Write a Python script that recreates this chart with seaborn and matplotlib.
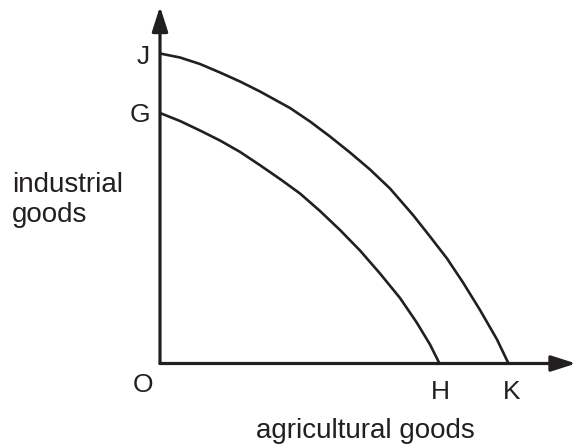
import matplotlib
matplotlib.use("Agg")
import matplotlib.pyplot as plt
from matplotlib.patches import FancyArrowPatch
import pandas as pd
import seaborn as sns

# Curves (x: agricultural goods, y: industrial goods)
outer_x = [0, 20, 40, 60, 80, 100, 130, 150, 170, 190, 210, 230, 253, 270, 287, 303, 320, 337, 348.5]
outer_y = [310, 306, 299.5, 291, 282, 272, 255.5, 242, 227, 211, 194, 175, 148.5, 127, 105, 81, 53.5, 24, 0]
inner_x = [0, 20, 40, 60, 80, 100, 120, 140, 160, 180, 200, 220, 240, 256.7, 270, 279.5]
inner_y = [250.5, 242.5, 233, 223, 211.6, 198.3, 184.5, 170, 152.5, 133.5, 113, 90, 65.5, 41, 19, 0]

point_labels = ["J", "G", "O", "H", "K"]
x_label = "agricultural goods"
y_label = "industrial\ngoods"

INK = "#231f20"

sns.set_style("white")
plt.rcParams["font.family"] = ["Liberation Sans", "DejaVu Sans"]

fig = plt.figure(figsize=(5.76, 4.48), dpi=100)
ax = fig.add_axes([160 / 576, 84.5 / 448, 416 / 576, 357 / 448])
ax.set_xlim(0, 416)
ax.set_ylim(0, 357)
ax.axis("off")

curves = pd.concat(
    [
        pd.DataFrame({"x": outer_x, "y": outer_y, "curve": "outer"}),
        pd.DataFrame({"x": inner_x, "y": inner_y, "curve": "inner"}),
    ]
)
sns.lineplot(
    data=curves, x="x", y="y", units="curve", estimator=None, sort=False,
    color=INK, lw=1.9, ax=ax, legend=False,
)

# Axes with arrow heads
for end in [(416, 0), (0, 357)]:
    ax.add_patch(
        FancyArrowPatch(
            (0, 0), end,
            arrowstyle="-|>,head_length=15,head_width=4.8",
            color=INK, lw=2.3, shrinkA=0, shrinkB=0,
            clip_on=False, zorder=3,
        )
    )

# Point labels
pos = {"J": (-17, 300), "G": (-20, 242), "O": (-17, -28), "H": (280, -35), "K": (352, -35)}
for lab in point_labels:
    ax.text(*pos[lab], lab, fontsize=19, color=INK, ha="center", va="baseline", clip_on=False)

ax.text(205, -74, x_label, fontsize=20, color=INK, ha="center", va="baseline", clip_on=False)
ax.text(-148, 142, y_label, fontsize=20, color=INK, ha="left", va="baseline",
        linespacing=1.2, clip_on=False)

fig.savefig("out.png", dpi=100)
